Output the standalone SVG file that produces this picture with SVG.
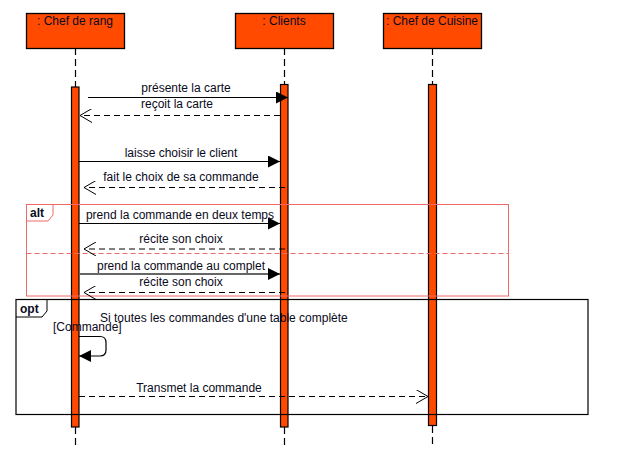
<svg xmlns="http://www.w3.org/2000/svg" width="618" height="450" viewBox="0 0 618 450">
<style>
text{font-family:"Liberation Sans",Arial,sans-serif;font-size:12px;fill:#0a0a20}
.hdr{fill:#ff4a00;stroke:#000;stroke-width:1.3}
.bar{fill:#ff4a00;stroke:#000;stroke-width:1.2}
.life{stroke:#000;stroke-width:1.2;stroke-dasharray:7,4;fill:none}
.sync{stroke:#000;stroke-width:1.2;fill:none}
.ret{stroke:#000;stroke-width:1;stroke-dasharray:6,4;fill:none}
.mid{text-anchor:middle}
</style>
<defs>
<marker id="fill" markerWidth="12" markerHeight="12" refX="12" refY="6" orient="auto" markerUnits="userSpaceOnUse">
<path d="M0,0 L12,6 L0,12 Z" fill="#000"/>
</marker>
<marker id="open" markerWidth="14" markerHeight="14" refX="13" refY="7" orient="auto" markerUnits="userSpaceOnUse">
<path d="M1,0 L13,7 L1,14" fill="none" stroke="#000" stroke-width="1"/>
</marker>
</defs>

<g id="lifeline-chef-de-rang">
<line class="life" x1="75.5" y1="48" x2="75.5" y2="87"/>
<line class="life" x1="75.5" y1="427" x2="75.5" y2="445"/>
<rect class="hdr" x="26.5" y="13.5" width="98" height="35"/>
<text class="mid" x="75" y="25">: Chef de rang</text>
<rect class="bar" x="71.5" y="87" width="7.5" height="340"/>
</g>
<g id="lifeline-clients">
<line class="life" x1="284.5" y1="48" x2="284.5" y2="84"/>
<line class="life" x1="284.5" y1="427" x2="284.5" y2="445"/>
<rect class="hdr" x="235.5" y="13.5" width="98" height="35"/>
<text class="mid" x="284" y="25">: Clients</text>
<rect class="bar" x="280.5" y="84.5" width="7.5" height="342.5"/>
</g>
<g id="lifeline-chef-de-cuisine">
<line class="life" x1="432.5" y1="48" x2="432.5" y2="84"/>
<line class="life" x1="432.5" y1="426" x2="432.5" y2="445"/>
<rect class="hdr" x="383.5" y="13.5" width="98" height="35"/>
<text class="mid" x="432" y="25">: Chef de Cuisine</text>
<rect class="bar" x="428.5" y="84.5" width="8" height="341"/>
</g>

<g id="frame-alt">
<rect x="26.5" y="204.5" width="482" height="91.5" fill="none" stroke="#ee6a6a" stroke-width="1"/>
<path d="M26.5,221 L48,221 L53,215 L53,204.5" fill="none" stroke="#ee6a6a" stroke-width="1"/>
<line x1="26.5" y1="253.5" x2="508.5" y2="253.5" stroke="#ee6a6a" stroke-width="1" stroke-dasharray="5,3"/>
<text x="30" y="217" style="font-weight:bold">alt</text>
</g>
<g id="frame-opt">
<rect x="16" y="299.5" width="572" height="115" fill="none" stroke="#000" stroke-width="1.2"/>
<path d="M16,317 L42,317 L47,311 L47,299.5" fill="none" stroke="#000" stroke-width="1"/>
<text x="20" y="313" style="font-weight:bold">opt</text>
<text x="100" y="322">Si toutes les commandes d'une table complète</text>
<text x="53" y="331">[Commande]</text>
</g>

<g id="connectors">
<line class="sync" x1="88" y1="97.5" x2="288" y2="97.5" marker-end="url(#fill)"/>
<text class="mid" x="186" y="92">présente la carte</text>
<line class="ret" x1="280" y1="115.5" x2="80" y2="115.5" marker-end="url(#open)"/>
<text class="mid" x="177" y="108">reçoit la carte</text>

<line class="sync" x1="79" y1="161.5" x2="280" y2="161.5" marker-end="url(#fill)"/>
<text class="mid" x="181" y="157">laisse choisir le client</text>
<line class="ret" x1="285" y1="187.5" x2="84" y2="187.5" marker-end="url(#open)"/>
<text class="mid" x="181" y="181">fait le choix de sa commande</text>

<line class="sync" x1="79" y1="223.5" x2="280" y2="223.5" marker-end="url(#fill)"/>
<text class="mid" x="180" y="219">prend la commande en deux temps</text>
<line class="ret" x1="285" y1="249" x2="84" y2="249" marker-end="url(#open)"/>
<text class="mid" x="181" y="243">récite son choix</text>

<line x1="79" y1="274" x2="280" y2="274" stroke="#666" stroke-width="2" marker-end="url(#fill)"/>
<text class="mid" x="181" y="270">prend la commande au complet</text>
<line class="ret" x1="285" y1="292.5" x2="84" y2="292.5" marker-end="url(#open)"/>
<text class="mid" x="181" y="286">récite son choix</text>

<path class="sync" d="M79,336.5 L100,336.5 Q106,336.5 106,342.5 L106,350 Q106,356 100,356 L79,356" marker-end="url(#fill)"/>

<line class="ret" x1="79" y1="396.5" x2="428" y2="396.5" marker-end="url(#open)"/>
<text class="mid" x="199" y="392">Transmet la commande</text>
</g>
</svg>
